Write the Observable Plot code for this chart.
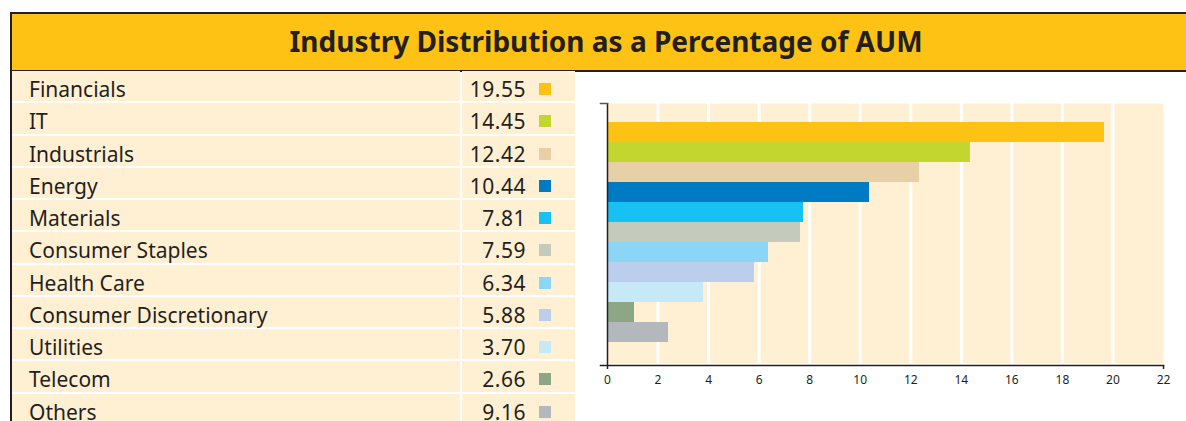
<!DOCTYPE html>
<html>
<head>
<meta charset="utf-8">
<script src="https://cdn.jsdelivr.net/npm/d3@7"></script>
<script src="https://cdn.jsdelivr.net/npm/@observablehq/plot@0.6"></script>
<style>
  html, body { margin: 0; padding: 0; background: #fff; }
  body { width: 1186px; height: 421px; position: relative; overflow: hidden; font-family: "Noto Sans", sans-serif; color: #231f20; }
  #title { position: absolute; left: 10px; top: 12px; width: 1176px; height: 60px;
    background: #fdc213; border-top: 2px solid #231f20; border-bottom: 2px solid #231f20; border-left: 2px solid #231f20;
    font-weight: bold; font-size: 28px; line-height: 54px; text-align: center; padding-left: 14px; box-sizing: border-box; }
  #table { position: absolute; left: 10px; top: 71px; width: 2px; height: 360px; background: #231f20; }
  .cell { position: absolute; background: #fff0d3; box-sizing: border-box; font-size: 21px; white-space: nowrap; }
  .lab { left: 12px; width: 448px; padding-left: 17px; }
  .val { left: 462px; width: 113px; text-align: right; padding-right: 49px; letter-spacing: 0.5px; }
  .sw { position: absolute; width: 12px; height: 12px; left: 539px; }
  #chart { position: absolute; left: 560px; top: 90px; }
</style>
</head>
<body>
<div id="title">Industry Distribution as a Percentage of AUM</div>
<div id="table"></div>
<div id="chart"></div>
<script>
const categories = ["Financials", "IT", "Industrials", "Energy", "Materials", "Consumer Staples", "Health Care", "Consumer Discretionary", "Utilities", "Telecom", "Others"];
const tableValues = ["19.55", "14.45", "12.42", "10.44", "7.81", "7.59", "6.34", "5.88", "3.70", "2.66", "9.16"];
const barValues = [19.65, 14.36, 12.35, 10.37, 7.76, 7.64, 6.37, 5.82, 3.80, 1.07, 2.40];
const colors = ["#fdc213", "#c3d62f", "#e7cfa6", "#007bc3", "#17c1f2", "#c4cbbd", "#8bd6f5", "#bbcfec", "#c6e9f8", "#8da786", "#b2b8bc"];
const xTicks = [0, 2, 4, 6, 8, 10, 12, 14, 16, 18, 20, 22];

// table
const rowStep = 32.25, rowH = 30.25, rowTop = 71;
categories.forEach((c, i) => {
  const top = rowTop + i * rowStep;
  const lab = document.createElement("div");
  lab.className = "cell lab";
  lab.style.top = top + "px"; lab.style.height = rowH + "px"; lab.style.lineHeight = (rowH + 7) + "px";
  lab.textContent = c;
  document.body.appendChild(lab);
  const val = document.createElement("div");
  val.className = "cell val";
  val.style.top = top + "px"; val.style.height = rowH + "px"; val.style.lineHeight = (rowH + 7) + "px";
  val.textContent = tableValues[i];
  document.body.appendChild(val);
  const sw = document.createElement("div");
  sw.className = "sw";
  sw.style.top = (top + 12) + "px";
  sw.style.background = colors[i];
  document.body.appendChild(sw);
});

const data = categories.map((c, i) => ({name: c, value: barValues[i], color: colors[i]}));

const chart = Plot.plot({
  width: 626,
  height: 331,
  marginLeft: 47,
  marginRight: 23,
  marginTop: 13,
  marginBottom: 56,
  style: {fontFamily: "Noto Sans, sans-serif", fontSize: "12px", color: "#231f20", background: "transparent"},
  x: {domain: [0, 22], axis: null, label: null},
  y: {domain: categories, paddingInner: 0, paddingOuter: 0.99, align: 0.45, axis: null, label: null},
  marks: [
    Plot.frame({fill: "#fff0d3", stroke: null, insetBottom: 2}),
    Plot.ruleX(xTicks.filter(d => d > 0 && d < 22), {stroke: "white", strokeWidth: 3, insetBottom: 2}),
    Plot.barX(data, {x: "value", y: "name", fill: "color", inset: 0, shapeRendering: "crispEdges"}),
    Plot.ruleX([0], {stroke: "#231f20", strokeWidth: 1.5}),
    Plot.frame({anchor: "bottom", stroke: "#231f20", strokeWidth: 1.5, insetLeft: -7}),
    Plot.frame({anchor: "top", stroke: "#555", strokeWidth: 1.5, insetLeft: -7, insetRight: 556}),
    Plot.axisX({ticks: [0, 22], tickSize: 4, text: null, label: null, stroke: "#231f20", strokeWidth: 1.5}),
    Plot.axisX({ticks: xTicks, tickSize: 0, tickPadding: 10, label: null, tickFormat: d => String(d), fill: "#231f20"})
  ]
});
document.getElementById("chart").appendChild(chart);
</script>
</body>
</html>
